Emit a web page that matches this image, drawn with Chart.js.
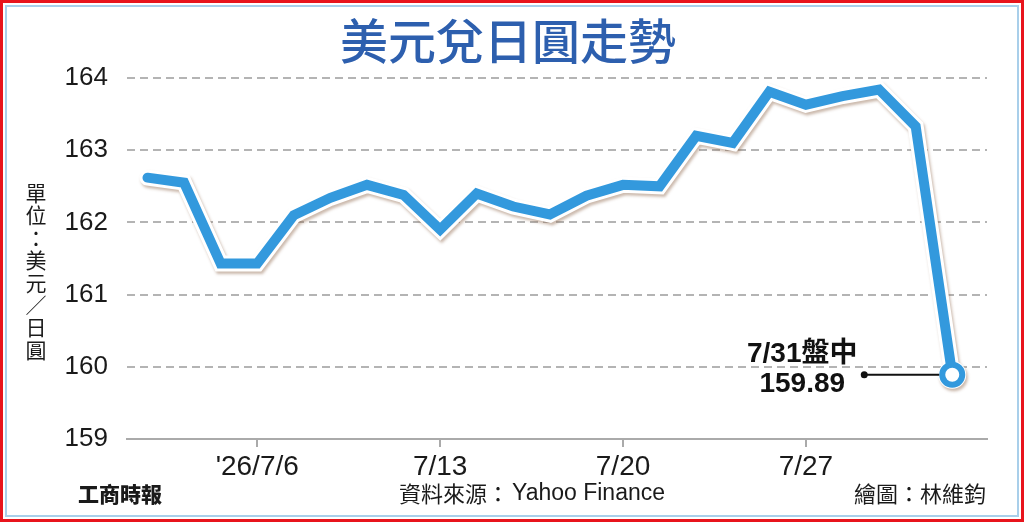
<!DOCTYPE html>
<html>
<head>
<meta charset="utf-8">
<script src="https://cdn.jsdelivr.net/npm/chart.js@4.4.1/dist/chart.umd.min.js"></script>
<style>
  html, body { margin: 0; padding: 0; background: #fff; }
  #wrap { width: 1024px; height: 522px; }
</style>
</head>
<body>
<div id="wrap"><canvas id="myChart" width="1024" height="522"></canvas></div>
<script>
// Datos: días hábiles de julio y cotización USD/JPY
const fechas = ['7/1', '7/2', '7/3', '7/6', '7/7', '7/8', '7/9', '7/10', '7/13', '7/14', '7/15', '7/16',
                '7/17', '7/20', '7/21', '7/22', '7/23', '7/24', '7/27', '7/28', '7/29', '7/30', '7/31'];
const valores = [162.62, 162.55, 161.43, 161.43, 162.10, 162.34, 162.52, 162.38, 161.90, 162.40, 162.22, 162.11,
                 162.37, 162.52, 162.50, 163.20, 163.10, 163.81, 163.63, 163.75, 163.84, 163.33, 159.89];
const fechasMarcadas = ['7/6', '7/13', '7/20', '7/27'];
const etiquetasX = ["'26/7/6", '7/13', '7/20', '7/27'];
const ticksY = [159, 160, 161, 162, 163, 164];

// Textos del gráfico
const titulo = '美元兌日圓走勢';
const unidad = '單位：美元／日圓';
const fuente = '資料來源：';
const fuenteNombre = 'Yahoo Finance';
const autor = '繪圖：林維鈞';
const marca = '工商時報';
const notaFecha = '7/31盤中';
const notaValor = '159.89';

const azul = '#3399dd';
const ultimo = valores.length - 1;
const puntos = valores.map((v, i) => ({ x: i, y: v }));
const indicesMarcados = fechasMarcadas.map(f => fechas.indexOf(f));

// Plugin para marco, títulos y anotación
const decoracion = {
    id: 'decoracion',
    beforeDraw(chart) {
        const c = chart.ctx;
        c.save();
        c.fillStyle = '#fff';
        c.fillRect(0, 0, chart.width, chart.height);
        c.strokeStyle = '#e8141c';
        c.lineWidth = 6;
        c.strokeRect(0, 0, chart.width, chart.height);
        c.strokeStyle = '#a9cfea';
        c.lineWidth = 2;
        c.strokeRect(6, 6, chart.width - 12, chart.height - 12);
        c.restore();
    },
    beforeDatasetDraw(chart, args) {
        // sombra para el contorno blanco de la línea
        if (args.index === 1) {
            const c = chart.ctx;
            c.save();
            c.shadowColor = 'rgba(140, 100, 70, 0.45)';
            c.shadowBlur = 3;
            c.shadowOffsetX = 1.5;
            c.shadowOffsetY = 2.5;
        }
    },
    afterDatasetDraw(chart, args) {
        if (args.index === 1) chart.ctx.restore();
    },
    afterDraw(chart) {
        const c = chart.ctx;
        c.save();
        // título
        c.fillStyle = '#2d5fae';
        c.font = '500 48px "Noto Sans CJK TC"';
        c.textAlign = 'center';
        c.textBaseline = 'middle';
        c.fillText(titulo, 508, 41);

        // unidad en vertical
        c.fillStyle = '#1a1a1a';
        c.font = '21px "Noto Sans CJK TC"';
        [...unidad].forEach((ch, i) => c.fillText(ch, 36, 193 + i * 22.4));

        // pie
        c.textAlign = 'left';
        c.font = '900 21px "Noto Sans CJK TC"';
        c.fillText(marca, 78, 494);
        c.font = '22px "Noto Sans CJK TC"';
        c.fillText(fuente, 399, 494);
        c.font = '23px "Liberation Sans"';
        c.fillText(fuenteNombre, 512, 494);
        c.textAlign = 'right';
        c.font = '22px "Noto Sans CJK TC"';
        c.fillText(autor, 986, 494);

        // anotación del último punto
        const p = chart.getDatasetMeta(0).data[ultimo];
        c.strokeStyle = '#111';
        c.lineWidth = 2;
        c.beginPath();
        c.moveTo(p.x - 88, p.y);
        c.lineTo(p.x - 13, p.y);
        c.stroke();
        c.fillStyle = '#111';
        c.beginPath();
        c.arc(p.x - 88, p.y, 3.5, 0, Math.PI * 2);
        c.fill();
        c.textAlign = 'center';
        c.font = 'bold 28px "Liberation Sans", "Noto Sans CJK TC"';
        c.fillText(notaFecha, p.x - 150, p.y - 20);
        c.fillText(notaValor, p.x - 150, p.y + 10);
        c.restore();
    }
};

const ctx = document.getElementById('myChart').getContext('2d');

const chart = new Chart(ctx, {
    type: 'line',
    data: {
        datasets: [{
            data: puntos,
            borderColor: azul,
            borderWidth: 10,
            borderCapStyle: 'round',
            pointRadius: c => c.dataIndex === ultimo ? 10 : 0,
            pointBorderWidth: 6,
            pointBorderColor: azul,
            pointBackgroundColor: '#fff',
            tension: 0,
            clip: false
        }, {
            data: puntos,
            borderColor: '#fff',
            borderWidth: 16,
            borderCapStyle: 'round',
            pointRadius: c => c.dataIndex === ultimo ? 14 : 0,
            pointBorderWidth: 0,
            pointBackgroundColor: '#fff',
            tension: 0,
            clip: false
        }]
    },
    options: {
        responsive: false,
        animation: false,
        layout: { padding: { top: 78, right: 37, bottom: 0, left: 0 } },
        plugins: {
            legend: { display: false },
            tooltip: { enabled: false }
        },
        scales: {
            x: {
                type: 'linear',
                min: -0.56,
                max: 22.95,
                afterBuildTicks: s => { s.ticks = indicesMarcados.map(v => ({ value: v })); },
                afterFit: s => { s.height = 83; },
                ticks: {
                    callback: v => etiquetasX[indicesMarcados.indexOf(v)],
                    font: { family: 'Liberation Sans', size: 28 },
                    color: '#1a1a1a',
                    padding: 3,
                    maxRotation: 0,
                    autoSkip: false
                },
                grid: { drawOnChartArea: false, drawTicks: true, tickLength: 8, color: '#aaa', lineWidth: 2 },
                border: { display: true, color: '#aaa', width: 2 }
            },
            y: {
                min: 159,
                max: 164,
                afterBuildTicks: s => { s.ticks = ticksY.map(v => ({ value: v })); },
                afterFit: s => { s.width = 127; },
                ticks: {
                    font: { family: 'Liberation Sans', size: 26 },
                    color: '#1a1a1a',
                    padding: 19
                },
                grid: {
                    drawTicks: false,
                    lineWidth: 2,
                    color: c => c.tick.value === 159 ? 'rgba(0,0,0,0)' : '#b4b4b4'
                },
                border: { display: false, dash: [8, 5] }
            }
        }
    },
    plugins: [decoracion]
});
</script>
</body>
</html>
